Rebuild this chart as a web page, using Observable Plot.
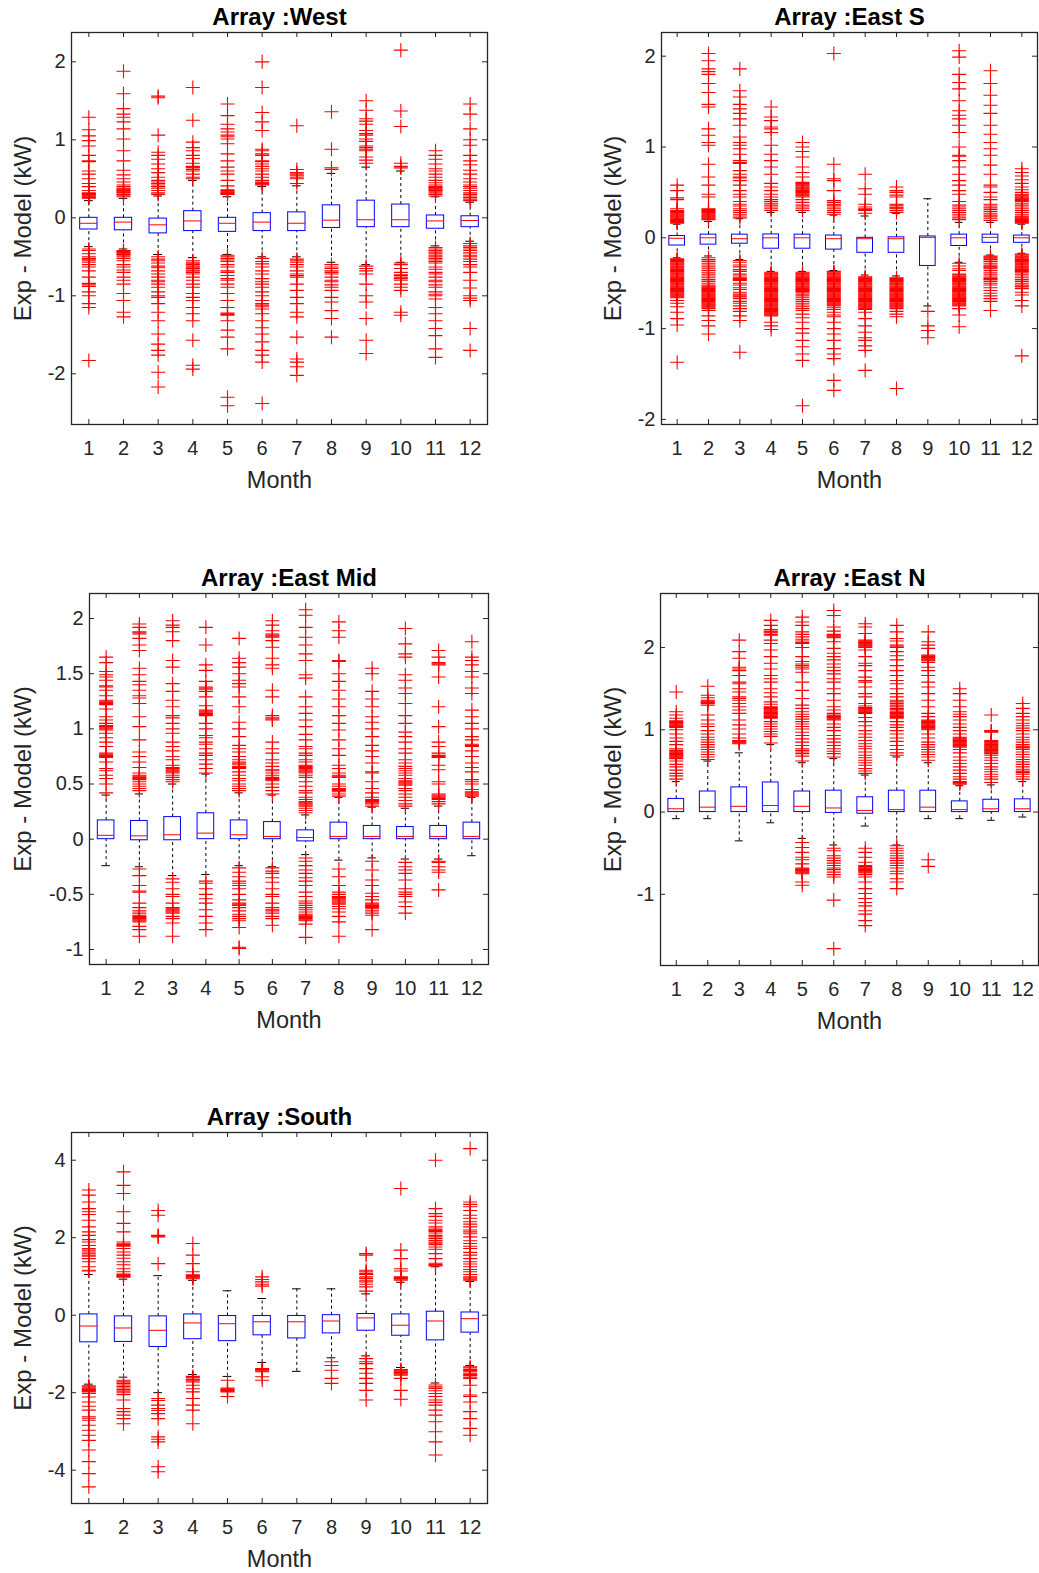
<!DOCTYPE html>
<html>
<head>
<meta charset="utf-8">
<script src="https://cdn.jsdelivr.net/npm/d3@7"></script>
<script src="https://cdn.jsdelivr.net/npm/@observablehq/plot@0.6"></script>
<style>
  html, body { margin: 0; padding: 0; background: #fff; overflow: hidden; }
  #page { position: relative; width: 1039px; height: 1573px; background: #fff; }
  .panel { position: absolute; }
</style>
</head>
<body>
<div id="page"></div>
<script>
// ---------------- DATA ----------------
const months = [1, 2, 3, 4, 5, 6, 7, 8, 9, 10, 11, 12];
const xLabel = "Month";
const yLabel = "Exp - Model (kW)";

// Box statistics per month: [lower whisker, Q1, median, Q3, upper whisker]
const westStats = [
  [-0.37, -0.15, -0.07, 0.0, 0.22], [-0.4, -0.16, -0.055, 0.0, 0.25], [-0.47, -0.2, -0.09, -0.01, 0.28],
  [-0.51, -0.17, -0.04, 0.085, 0.48], [-0.47, -0.18, -0.07, 0.0, 0.27], [-0.5, -0.17, -0.055, 0.06, 0.4],
  [-0.5, -0.17, -0.07, 0.07, 0.41], [-0.57, -0.13, -0.03, 0.16, 0.57], [-0.6, -0.12, -0.025, 0.22, 0.65],
  [-0.57, -0.12, -0.025, 0.17, 0.6], [-0.36, -0.14, -0.04, 0.03, 0.27], [-0.3, -0.12, -0.035, 0.02, 0.2]
];
const westOut = [
  [0.25,0.26,0.27,0.28,0.29,0.3,0.31,0.32,0.35,0.4,0.44,0.5,0.56,0.6,0.72,0.73,0.8,0.92,0.99,1.05,1.13,1.29,
   -0.4,-0.42,-0.46,-0.5,-0.52,-0.53,-0.55,-0.57,-0.6,-0.63,-0.68,-0.76,-0.84,-0.86,-0.88,-0.95,-1.0,-1.1,-1.15,-1.83],
  [0.27,0.29,0.3,0.32,0.33,0.34,0.35,0.36,0.37,0.38,0.4,0.42,0.46,0.5,0.55,0.61,0.73,0.86,1.01,1.14,1.23,1.29,1.33,1.4,1.59,1.88,
   -0.42,-0.43,-0.44,-0.45,-0.46,-0.47,-0.48,-0.5,-0.52,-0.55,-0.6,-0.63,-0.67,-0.7,-0.76,-0.8,-0.85,-0.97,-1.06,-1.21,-1.27],
  [0.3,0.32,0.35,0.38,0.4,0.42,0.44,0.46,0.48,0.52,0.58,0.63,0.69,0.75,0.8,0.84,1.06,1.54,1.56,
   -0.5,-0.53,-0.55,-0.58,-0.62,-0.64,-0.68,-0.72,-0.76,-0.8,-0.82,-0.85,-0.89,-0.95,-1.0,-1.02,-1.1,-1.21,-1.32,-1.49,-1.62,-1.7,-1.76,-1.98,-2.17],
  [0.5,0.52,0.56,0.6,0.62,0.64,0.65,0.66,0.7,0.76,0.8,0.86,0.9,0.97,1.25,1.67,
   -0.55,-0.57,-0.59,-0.6,-0.62,-0.64,-0.65,-0.67,-0.68,-0.7,-0.72,-0.76,-0.8,-0.85,-0.89,-0.97,-1.02,-1.06,-1.15,-1.23,-1.32,-1.57,-1.89,-1.94],
  [0.3,0.31,0.32,0.33,0.34,0.35,0.36,0.41,0.48,0.56,0.6,0.65,0.73,0.82,0.95,1.01,1.04,1.06,1.1,1.14,1.2,1.31,1.46,
   -0.48,-0.5,-0.52,-0.54,-0.56,-0.6,-0.63,-0.68,-0.7,-0.74,-0.78,-0.8,-0.85,-0.89,-0.97,-1.06,-1.15,-1.22,-1.23,-1.24,-1.25,-1.32,-1.44,-1.53,-1.68,-2.3,-2.41],
  [0.42,0.43,0.44,0.45,0.46,0.48,0.52,0.56,0.6,0.63,0.66,0.69,0.72,0.73,0.8,0.82,0.86,0.88,1.12,1.23,1.35,1.67,2.0,
   -0.52,-0.56,-0.59,-0.63,-0.68,-0.72,-0.78,-0.82,-0.85,-0.89,-0.95,-1.0,-1.06,-1.1,-1.12,-1.14,-1.17,-1.23,-1.32,-1.41,-1.49,-1.59,-1.7,-1.76,-1.85,-2.38],
  [0.44,0.5,0.52,0.54,0.56,0.58,0.62,1.18,
   -0.53,-0.55,-0.57,-0.6,-0.63,-0.68,-0.72,-0.74,-0.76,-0.85,-0.93,-1.02,-1.1,-1.21,-1.27,-1.53,-1.81,-1.85,-1.91,-2.02],
  [0.62,0.64,0.88,1.36,
   -0.6,-0.63,-0.65,-0.68,-0.7,-0.72,-0.76,-0.8,-0.82,-0.86,-0.89,-0.93,-1.02,-1.08,-1.19,-1.29,-1.53],
  [0.7,0.74,0.78,0.86,0.88,0.9,0.92,0.98,1.01,1.06,1.08,1.12,1.2,1.24,1.27,1.38,1.5,
   -0.62,-0.65,-0.68,-0.72,-0.85,-1.0,-1.08,-1.29,-1.57,-1.74],
  [0.64,0.66,0.7,1.17,1.37,2.15,
   -0.58,-0.6,-0.65,-0.7,-0.73,-0.74,-0.76,-0.78,-0.8,-0.85,-0.89,-0.93,-1.21,-1.25],
  [0.28,0.3,0.32,0.34,0.35,0.36,0.37,0.38,0.39,0.4,0.42,0.45,0.48,0.52,0.56,0.6,0.63,0.69,0.75,0.8,0.86,
   -0.38,-0.4,-0.42,-0.44,-0.46,-0.48,-0.5,-0.52,-0.54,-0.56,-0.58,-0.63,-0.66,-0.7,-0.72,-0.76,-0.8,-0.82,-0.86,-0.89,-0.95,-0.98,-1.0,-1.04,-1.15,-1.23,-1.32,-1.42,-1.51,-1.68,-1.79],
  [0.22,0.24,0.26,0.28,0.3,0.32,0.35,0.38,0.4,0.42,0.46,0.5,0.56,0.61,0.68,0.73,0.8,0.93,1.0,1.14,1.33,1.46,
   -0.33,-0.36,-0.38,-0.4,-0.42,-0.45,-0.48,-0.5,-0.53,-0.56,-0.6,-0.63,-0.7,-0.8,-0.9,-1.0,-1.03,-1.06,-1.42,-1.7]
];

const eastSStats = [
  [-0.22, -0.085, -0.005, 0.02, 0.15], [-0.2, -0.075, 0.0, 0.035, 0.18], [-0.24, -0.065, -0.01, 0.035, 0.21],
  [-0.37, -0.12, 0.0, 0.037, 0.28], [-0.37, -0.12, 0.0, 0.035, 0.28], [-0.36, -0.13, -0.01, 0.025, 0.25],
  [-0.41, -0.165, -0.01, 0.0, 0.24], [-0.42, -0.165, -0.01, 0.005, 0.27], [-0.75, -0.31, 0.005, 0.015, 0.43],
  [-0.27, -0.09, 0.0, 0.035, 0.17], [-0.19, -0.055, 0.005, 0.035, 0.17], [-0.17, -0.055, 0.0, 0.025, 0.15]
];
const eastSOut = [
  [0.16,0.17,0.18,0.19,0.2,0.21,0.22,0.23,0.24,0.25,0.26,0.27,0.28,0.29,0.3,0.32,0.42,0.44,0.52,0.58,
   -0.23,-0.24,-0.25,-0.26,-0.27,-0.28,-0.29,-0.3,-0.31,-0.32,-0.33,-0.34,-0.35,-0.36,-0.37,-0.38,-0.39,-0.4,-0.41,-0.42,-0.43,-0.44,-0.45,
   -0.46,-0.47,-0.48,-0.49,-0.5,-0.51,-0.52,-0.53,-0.54,-0.55,-0.56,-0.57,-0.58,-0.59,-0.6,-0.61,-0.62,-0.63,-0.64,-0.65,-0.66,
   -0.69,-0.72,-0.76,-0.82,-0.89,-0.96,-1.37],
  [0.2,0.21,0.22,0.23,0.24,0.25,0.26,0.27,0.28,0.29,0.3,0.31,0.32,0.45,0.48,0.58,0.67,0.81,1.02,1.05,1.13,1.2,1.44,1.47,1.6,1.7,1.8,1.83,1.86,1.95,2.03,
   -0.22,-0.24,-0.26,-0.28,-0.3,-0.32,-0.34,-0.36,-0.38,-0.4,-0.42,-0.44,-0.46,-0.48,-0.5,-0.52,-0.53,-0.54,-0.55,-0.56,-0.57,-0.58,-0.59,-0.6,
   -0.61,-0.62,-0.63,-0.64,-0.65,-0.66,-0.67,-0.68,-0.69,-0.7,-0.71,-0.72,-0.73,-0.74,-0.75,-0.76,-0.77,-0.78,-0.8,-0.86,-0.91,-0.97,-1.06],
  [0.22,0.24,0.26,0.28,0.3,0.32,0.35,0.37,0.4,0.45,0.48,0.52,0.58,0.63,0.66,0.67,0.7,0.74,0.82,0.83,0.85,0.92,0.98,1.02,1.05,1.11,1.24,1.31,1.37,1.42,1.47,1.55,1.62,1.86,
   -0.25,-0.27,-0.3,-0.32,-0.35,-0.37,-0.4,-0.42,-0.44,-0.45,-0.46,-0.47,-0.5,-0.52,-0.55,-0.57,-0.6,-0.62,-0.64,-0.65,-0.67,-0.7,-0.72,-0.75,-0.78,-0.81,-0.86,-0.91,-1.26],
  [0.3,0.32,0.34,0.36,0.38,0.4,0.42,0.45,0.48,0.52,0.56,0.6,0.7,0.78,0.85,0.92,1.02,1.16,1.2,1.22,1.29,1.33,1.44,
   -0.38,-0.39,-0.4,-0.41,-0.42,-0.43,-0.44,-0.45,-0.46,-0.47,-0.48,-0.49,-0.5,-0.51,-0.52,-0.53,-0.54,-0.55,-0.56,-0.57,-0.58,-0.59,-0.6,
   -0.61,-0.62,-0.63,-0.64,-0.65,-0.66,-0.67,-0.68,-0.69,-0.7,-0.71,-0.72,-0.73,-0.74,-0.75,-0.76,-0.77,-0.78,-0.79,-0.8,-0.81,-0.82,-0.83,-0.84,-0.85,-0.86,
   -0.93,-0.97,-1.01],
  [0.3,0.32,0.34,0.36,0.39,0.42,0.45,0.46,0.47,0.48,0.49,0.5,0.51,0.52,0.53,0.54,0.55,0.56,0.57,0.58,0.59,0.6,0.61,0.67,0.72,0.78,0.89,0.95,1.0,1.05,
   -0.38,-0.39,-0.4,-0.41,-0.42,-0.43,-0.44,-0.45,-0.46,-0.47,-0.48,-0.49,-0.5,-0.51,-0.52,-0.53,-0.54,-0.55,-0.56,-0.57,-0.58,-0.59,-0.6,
   -0.62,-0.64,-0.66,-0.68,-0.7,-0.72,-0.74,-0.76,-0.78,-0.8,-0.84,-0.88,-0.93,-1.0,-1.05,-1.13,-1.2,-1.28,-1.35,-1.85],
  [0.26,0.28,0.3,0.32,0.34,0.36,0.37,0.39,0.41,0.52,0.63,0.65,0.81,2.03,
   -0.37,-0.38,-0.39,-0.4,-0.41,-0.42,-0.43,-0.44,-0.45,-0.46,-0.47,-0.48,-0.49,-0.5,-0.51,-0.52,-0.53,-0.54,-0.55,-0.56,-0.57,-0.58,-0.59,-0.6,
   -0.61,-0.62,-0.63,-0.64,-0.65,-0.66,-0.67,-0.68,-0.69,-0.7,-0.71,-0.72,-0.73,-0.74,-0.75,
   -0.77,-0.79,-0.82,-0.85,-0.87,-0.93,-1.0,-1.06,-1.13,-1.22,-1.28,-1.33,-1.57,-1.68],
  [0.27,0.3,0.31,0.32,0.34,0.37,0.48,0.54,0.7,
   -0.43,-0.44,-0.45,-0.46,-0.47,-0.48,-0.49,-0.5,-0.51,-0.52,-0.53,-0.54,-0.55,-0.56,-0.57,-0.58,-0.59,-0.6,
   -0.61,-0.62,-0.63,-0.64,-0.65,-0.66,-0.67,-0.68,-0.69,-0.7,-0.71,-0.72,-0.73,-0.74,-0.75,-0.76,-0.77,-0.78,-0.79,
   -0.82,-0.89,-0.97,-1.04,-1.1,-1.13,-1.19,-1.24,-1.46],
  [0.28,0.3,0.32,0.33,0.34,0.36,0.37,0.45,0.47,0.5,0.52,0.56,
   -0.44,-0.45,-0.46,-0.47,-0.48,-0.49,-0.5,-0.51,-0.52,-0.53,-0.54,-0.55,-0.56,-0.57,-0.58,-0.59,-0.6,
   -0.61,-0.62,-0.63,-0.64,-0.65,-0.66,-0.67,-0.68,-0.69,-0.7,-0.71,-0.72,-0.73,-0.74,-0.75,-0.76,-0.77,-0.78,
   -0.81,-0.84,-0.87,-1.66],
  [-0.81,-0.97,-1.02,-1.1],
  [0.2,0.22,0.24,0.26,0.28,0.3,0.32,0.34,0.36,0.4,0.48,0.52,0.58,0.63,0.7,0.78,0.85,0.9,0.91,1.0,1.16,1.24,1.31,1.35,1.4,1.51,1.64,1.71,1.8,1.99,2.06,
   -0.28,-0.31,-0.34,-0.36,-0.4,-0.41,-0.42,-0.43,-0.44,-0.45,-0.46,-0.47,-0.48,-0.49,-0.5,-0.51,-0.52,-0.53,-0.54,-0.55,-0.56,-0.57,-0.58,-0.59,
   -0.6,-0.61,-0.62,-0.63,-0.64,-0.65,-0.66,-0.67,-0.68,-0.69,-0.7,-0.71,-0.72,-0.73,-0.74,-0.75,-0.78,-0.85,-0.98],
  [0.19,0.21,0.23,0.25,0.27,0.29,0.31,0.33,0.35,0.37,0.42,0.45,0.5,0.56,0.58,0.7,0.8,0.91,0.98,1.05,1.14,1.24,1.37,1.46,1.57,1.7,1.84,
   -0.2,-0.21,-0.22,-0.23,-0.24,-0.26,-0.28,-0.3,-0.31,-0.32,-0.33,-0.34,-0.36,-0.38,-0.4,-0.42,-0.44,-0.45,-0.46,-0.48,-0.5,-0.52,-0.55,-0.58,-0.61,-0.64,-0.67,-0.7,-0.8],
  [0.16,0.17,0.18,0.19,0.2,0.21,0.22,0.23,0.24,0.26,0.28,0.3,0.32,0.34,0.36,0.38,0.4,0.41,0.42,0.43,0.44,0.45,0.46,0.47,0.48,0.5,0.53,0.56,0.6,0.64,0.68,0.72,0.76,
   -0.18,-0.19,-0.2,-0.21,-0.22,-0.23,-0.24,-0.25,-0.26,-0.27,-0.28,-0.29,-0.3,-0.31,-0.32,-0.33,-0.34,-0.35,-0.36,-0.37,-0.38,-0.4,-0.42,-0.44,-0.46,-0.48,-0.5,-0.52,-0.53,-0.54,-0.56,-0.6,-0.63,-0.69,-0.75,-1.3]
];

const eastMidStats = [
  [-0.24, 0.0, 0.035, 0.17, 0.4], [-0.25, -0.01, 0.03, 0.165, 0.41], [-0.33, -0.01, 0.04, 0.2, 0.5],
  [-0.32, 0.0, 0.055, 0.235, 0.59], [-0.24, 0.0, 0.04, 0.17, 0.42], [-0.25, 0.0, 0.025, 0.155, 0.4],
  [-0.14, -0.02, 0.015, 0.08, 0.22], [-0.19, 0.0, 0.025, 0.15, 0.38], [-0.17, 0.0, 0.025, 0.12, 0.29],
  [-0.18, 0.0, 0.025, 0.11, 0.28], [-0.18, 0.0, 0.025, 0.12, 0.3], [-0.15, 0.0, 0.025, 0.15, 0.38]
];
const eastMidOut = [
  [0.42,0.5,0.55,0.58,0.62,0.64,0.7,0.74,0.75,0.76,0.77,0.78,0.84,0.88,0.92,0.96,0.99,1.0,1.01,1.02,1.03,1.05,1.08,1.11,1.18,1.22,1.23,1.24,1.25,1.26,1.3,1.35,1.38,1.39,1.44,1.47,1.49,1.52,1.6,1.65],
  [0.44,0.46,0.48,0.5,0.52,0.54,0.55,0.56,0.57,0.58,0.6,0.65,0.7,0.75,0.79,0.9,1.02,1.11,1.23,1.28,1.3,1.35,1.4,1.43,1.49,1.55,1.71,1.76,1.82,1.86,1.87,1.88,1.92,1.95,
   -0.27,-0.33,-0.42,-0.47,-0.48,-0.58,-0.62,-0.65,-0.67,-0.69,-0.7,-0.71,-0.72,-0.73,-0.74,-0.75,-0.79,-0.82,-0.88],
  [0.52,0.54,0.56,0.58,0.6,0.61,0.62,0.63,0.64,0.65,0.67,0.72,0.75,0.8,0.84,0.88,0.96,1.0,1.05,1.1,1.12,1.2,1.26,1.34,1.41,1.56,1.62,1.8,1.88,1.92,1.94,1.98,
   -0.36,-0.39,-0.45,-0.5,-0.52,-0.58,-0.62,-0.63,-0.64,-0.65,-0.66,-0.67,-0.7,-0.72,-0.76,-0.88],
  [0.6,0.64,0.68,0.72,0.76,0.78,0.82,0.86,0.88,0.92,0.94,1.0,1.05,1.12,1.13,1.14,1.15,1.16,1.17,1.21,1.29,1.34,1.36,1.37,1.38,1.43,1.53,1.58,1.76,1.92,
   -0.38,-0.4,-0.45,-0.5,-0.54,-0.58,-0.64,-0.7,-0.76,-0.82],
  [0.44,0.46,0.48,0.5,0.53,0.55,0.58,0.61,0.64,0.65,0.66,0.68,0.69,0.7,0.72,0.75,0.79,0.82,0.85,0.93,1.0,1.06,1.2,1.29,1.38,1.41,1.44,1.5,1.56,1.6,1.64,1.82,
   -0.26,-0.3,-0.34,-0.38,-0.4,-0.42,-0.45,-0.5,-0.55,-0.58,-0.59,-0.6,-0.62,-0.65,-0.68,-0.7,-0.72,-0.74,-0.8,-0.98,-0.99],
  [0.41,0.44,0.47,0.5,0.53,0.54,0.55,0.56,0.58,0.6,0.62,0.63,0.66,0.69,0.72,0.78,0.82,0.88,1.08,1.09,1.1,1.12,1.29,1.35,1.55,1.58,1.64,1.74,1.8,1.83,1.84,1.85,1.86,1.89,1.94,1.98,
   -0.26,-0.29,-0.31,-0.35,-0.39,-0.45,-0.5,-0.52,-0.58,-0.62,-0.64,-0.65,-0.67,-0.7,-0.72,-0.78],
  [0.24,0.26,0.28,0.3,0.31,0.32,0.33,0.34,0.36,0.38,0.42,0.44,0.48,0.52,0.56,0.58,0.6,0.61,0.62,0.63,0.64,0.65,0.66,0.67,0.7,0.72,0.76,0.78,0.82,0.84,0.9,0.95,1.02,1.08,1.14,1.2,1.29,1.46,1.49,1.62,1.68,1.76,1.83,1.92,2.03,2.08,
   -0.17,-0.2,-0.24,-0.28,-0.31,-0.35,-0.38,-0.42,-0.48,-0.52,-0.56,-0.58,-0.6,-0.62,-0.64,-0.66,-0.68,-0.69,-0.7,-0.71,-0.72,-0.73,-0.74,-0.77,-0.89],
  [0.39,0.41,0.43,0.44,0.45,0.46,0.48,0.5,0.56,0.57,0.58,0.6,0.64,0.67,0.76,0.82,0.9,0.99,1.05,1.12,1.2,1.27,1.35,1.43,1.5,1.61,1.62,1.83,1.89,1.97,
   -0.27,-0.34,-0.42,-0.48,-0.5,-0.52,-0.53,-0.54,-0.55,-0.56,-0.57,-0.58,-0.59,-0.61,-0.63,-0.66,-0.7,-0.75,-0.88],
  [0.3,0.32,0.33,0.34,0.35,0.36,0.38,0.42,0.46,0.52,0.6,0.61,0.69,0.75,0.8,0.85,0.93,1.0,1.06,1.11,1.2,1.27,1.34,1.5,1.55,
   -0.2,-0.28,-0.37,-0.42,-0.49,-0.52,-0.55,-0.58,-0.59,-0.6,-0.61,-0.62,-0.63,-0.65,-0.67,-0.69,-0.82],
  [0.3,0.32,0.35,0.38,0.41,0.44,0.46,0.49,0.5,0.51,0.52,0.53,0.55,0.58,0.6,0.62,0.64,0.66,0.69,0.72,0.78,0.82,0.88,0.93,0.97,1.05,1.12,1.23,1.32,1.37,1.44,1.49,1.65,1.68,1.77,1.91,
   -0.21,-0.25,-0.28,-0.31,-0.37,-0.45,-0.48,-0.5,-0.52,-0.57,-0.61,-0.67],
  [0.32,0.34,0.36,0.37,0.38,0.39,0.4,0.41,0.5,0.52,0.63,0.67,0.74,0.75,0.76,0.78,0.84,0.88,1.02,1.2,1.47,1.58,1.59,1.6,1.65,1.71,
   -0.2,-0.21,-0.25,-0.28,-0.3,-0.46],
  [0.39,0.4,0.41,0.42,0.43,0.45,0.5,0.52,0.54,0.61,0.65,0.69,0.75,0.8,0.84,0.85,0.86,0.9,0.93,1.0,1.05,1.11,1.17,1.32,1.37,1.47,1.52,1.58,1.62,1.65,1.79]
];

const eastNStats = [
  [-0.08, 0.0, 0.04, 0.16, 0.37], [-0.08, 0.0, 0.06, 0.25, 0.62], [-0.35, 0.0, 0.07, 0.3, 0.72],
  [-0.13, 0.0, 0.08, 0.36, 0.82], [-0.32, 0.0, 0.07, 0.25, 0.6], [-0.4, -0.01, 0.05, 0.26, 0.65],
  [-0.17, -0.02, 0.02, 0.18, 0.45], [-0.4, 0.0, 0.03, 0.26, 0.67], [-0.08, 0.0, 0.06, 0.26, 0.6],
  [-0.08, 0.0, 0.03, 0.13, 0.32], [-0.1, 0.0, 0.04, 0.15, 0.33], [-0.06, 0.0, 0.04, 0.155, 0.37]
];
const eastNOut = [
  [0.4,0.44,0.47,0.51,0.55,0.58,0.62,0.65,0.66,0.67,0.68,0.69,0.7,0.71,0.72,0.73,0.74,0.75,0.77,0.82,0.86,0.9,0.95,1.0,1.03,1.04,1.05,1.06,1.07,1.08,1.09,1.1,1.11,1.14,1.18,1.22,1.46],
  [0.64,0.67,0.7,0.73,0.76,0.79,0.82,0.85,0.88,0.91,0.95,0.99,1.04,1.07,1.12,1.18,1.3,1.32,1.33,1.34,1.35,1.36,1.39,1.42,1.53],
  [0.83,0.84,0.85,0.86,0.87,0.9,0.95,1.01,1.06,1.12,1.2,1.24,1.28,1.32,1.36,1.38,1.4,1.46,1.5,1.56,1.58,1.66,1.72,1.74,1.76,1.87,1.95,2.09],
  [0.84,0.92,0.95,0.98,1.01,1.04,1.07,1.1,1.14,1.15,1.16,1.17,1.18,1.19,1.2,1.21,1.22,1.23,1.24,1.25,1.26,1.27,1.28,1.31,1.34,1.4,1.45,1.5,1.58,1.62,1.66,1.74,1.81,1.89,1.97,2.05,2.09,2.15,2.16,2.18,2.19,2.2,2.22,2.27,2.33],
  [0.62,0.68,0.71,0.73,0.75,0.77,0.81,0.85,0.89,0.93,0.97,1.01,1.04,1.07,1.1,1.13,1.16,1.19,1.22,1.26,1.3,1.38,1.48,1.58,1.7,1.74,1.76,1.78,1.8,1.83,1.89,2.0,2.05,2.06,2.08,2.1,2.13,2.16,2.19,2.27,2.31,2.37,
   -0.37,-0.43,-0.49,-0.55,-0.58,-0.63,-0.68,-0.69,-0.7,-0.71,-0.72,-0.73,-0.74,-0.75,-0.85,-0.89],
  [0.67,0.71,0.74,0.77,0.81,0.85,0.89,0.93,0.99,1.03,1.07,1.12,1.13,1.14,1.15,1.16,1.17,1.18,1.2,1.24,1.28,1.36,1.44,1.5,1.58,1.62,1.68,1.72,1.76,1.8,1.85,1.89,1.93,1.99,2.07,2.12,2.13,2.14,2.15,2.16,2.2,2.25,2.39,2.45,
   -0.44,-0.47,-0.53,-0.56,-0.59,-0.62,-0.65,-0.68,-0.7,-0.73,-0.76,-0.79,-1.07,-1.66],
  [0.47,0.5,0.53,0.57,0.6,0.63,0.66,0.69,0.73,0.77,0.8,0.83,0.87,0.91,0.95,0.99,1.05,1.1,1.15,1.2,1.21,1.22,1.23,1.24,1.25,1.26,1.27,1.29,1.32,1.4,1.44,1.52,1.58,1.6,1.64,1.72,1.78,1.81,1.89,1.97,2.0,2.01,2.02,2.03,2.04,2.05,2.06,2.07,2.08,2.09,2.17,2.25,2.29,
   -0.44,-0.49,-0.55,-0.61,-0.65,-0.66,-0.67,-0.68,-0.69,-0.7,-0.71,-0.72,-0.73,-0.74,-0.76,-0.79,-0.85,-0.93,-0.99,-1.05,-1.1,-1.14,-1.2,-1.24,-1.32,-1.38],
  [0.69,0.72,0.76,0.81,0.86,0.9,0.95,0.99,1.03,1.06,1.1,1.14,1.15,1.16,1.17,1.18,1.19,1.2,1.21,1.22,1.24,1.25,1.26,1.28,1.3,1.32,1.34,1.36,1.4,1.44,1.5,1.56,1.6,1.66,1.72,1.78,1.85,1.9,1.95,2.0,2.01,2.03,2.08,2.11,2.19,2.27,
   -0.41,-0.44,-0.47,-0.5,-0.53,-0.56,-0.59,-0.62,-0.65,-0.68,-0.72,-0.75,-0.81,-0.85,-0.93],
  [0.63,0.67,0.7,0.73,0.76,0.79,0.82,0.85,0.9,0.95,1.0,1.01,1.02,1.03,1.04,1.05,1.06,1.07,1.08,1.09,1.1,1.11,1.12,1.16,1.2,1.28,1.36,1.44,1.52,1.58,1.66,1.72,1.76,1.82,1.84,1.85,1.86,1.87,1.88,1.89,1.9,1.91,1.99,2.03,2.07,2.19,
   -0.58,-0.66],
  [0.34,0.35,0.36,0.37,0.4,0.43,0.47,0.51,0.55,0.59,0.63,0.67,0.72,0.76,0.79,0.8,0.81,0.82,0.83,0.84,0.85,0.86,0.87,0.88,0.89,0.9,0.91,0.95,0.99,1.03,1.07,1.12,1.16,1.19,1.22,1.28,1.36,1.44,1.5],
  [0.36,0.4,0.43,0.46,0.49,0.52,0.55,0.59,0.63,0.66,0.69,0.71,0.72,0.73,0.74,0.75,0.76,0.77,0.78,0.79,0.8,0.81,0.82,0.83,0.84,0.85,0.86,0.87,0.97,0.98,0.99,1.18],
  [0.4,0.43,0.46,0.48,0.49,0.5,0.52,0.55,0.58,0.61,0.64,0.67,0.7,0.73,0.76,0.78,0.79,0.8,0.82,0.85,0.88,0.91,0.95,0.99,1.02,1.05,1.08,1.12,1.16,1.2,1.26,1.32]
];

const southStats = [
  [-1.78, -0.7, -0.28, 0.02, 1.05], [-1.6, -0.69, -0.33, -0.03, 0.93], [-2.0, -0.82, -0.39, -0.03, 1.02],
  [-1.53, -0.62, -0.2, 0.02, 0.9], [-1.58, -0.67, -0.22, -0.02, 0.63], [-1.22, -0.52, -0.17, -0.02, 0.43],
  [-1.45, -0.6, -0.17, -0.02, 0.68], [-1.1, -0.47, -0.15, 0.0, 0.68], [-1.05, -0.4, -0.07, 0.03, 0.55],
  [-1.35, -0.53, -0.26, 0.02, 0.85], [-1.75, -0.65, -0.15, 0.09, 1.25], [-1.3, -0.45, -0.09, 0.07, 0.87]
];
const southOut = [
  [1.14,1.16,1.25,1.38,1.46,1.52,1.55,1.6,1.63,1.68,1.72,1.8,1.89,1.95,2.06,2.15,2.28,2.45,2.6,2.67,2.75,2.92,3.1,3.23,
   -1.82,-1.85,-1.88,-1.9,-1.92,-1.94,-1.96,-1.98,-2.02,-2.11,-2.24,-2.35,-2.45,-2.62,-2.66,-2.71,-2.84,-2.97,-3.1,-3.23,-3.48,-3.78,-4.09,-4.43],
  [0.98,1.0,1.02,1.04,1.06,1.12,1.2,1.3,1.38,1.47,1.55,1.63,1.72,1.78,1.8,1.82,1.84,1.89,2.15,2.37,2.67,3.14,3.35,3.7,
   -1.68,-1.72,-1.76,-1.8,-1.84,-1.88,-1.92,-1.96,-2.0,-2.05,-2.19,-2.41,-2.49,-2.58,-2.67,-2.8],
  [1.33,2.02,2.04,2.06,2.58,2.7,
   -2.15,-2.2,-2.32,-2.41,-2.46,-2.54,-2.67,-3.14,-3.2,-3.27,-3.91,-4.04],
  [0.94,0.96,0.98,1.0,1.02,1.04,1.12,1.33,1.55,1.85,
   -1.58,-1.6,-1.62,-1.66,-1.68,-1.72,-1.81,-1.9,-1.98,-2.15,-2.32,-2.45,-2.8],
  [-1.68,-1.88,-1.9,-1.92,-1.94,-1.96,-1.98,-2.1],
  [0.75,0.8,0.86,0.92,0.99,
   -1.38,-1.4,-1.42,-1.44,-1.46,-1.59,-1.68],
  [],
  [-1.2,-1.3,-1.42,-1.63,-1.76],
  [0.62,0.73,0.8,0.86,0.9,0.95,0.99,1.05,1.08,1.12,1.16,1.55,1.59,
   -1.12,-1.2,-1.25,-1.38,-1.5,-1.63,-1.76,-1.94,-2.19],
  [0.9,0.93,0.95,0.97,0.99,1.14,1.2,1.46,1.68,3.27,
   -1.4,-1.42,-1.44,-1.46,-1.48,-1.5,-1.52,-1.55,-1.63,-1.94,-2.17],
  [1.27,1.29,1.31,1.34,1.46,1.59,1.7,1.76,1.82,1.86,1.89,1.93,1.98,2.02,2.06,2.12,2.16,2.19,2.22,2.28,2.38,2.45,2.55,2.62,2.75,4.0,
   -1.8,-1.85,-1.89,-1.95,-2.02,-2.1,-2.19,-2.25,-2.32,-2.45,-2.58,-2.75,-3.01,-3.27,-3.61],
  [0.9,0.93,0.96,0.99,1.05,1.12,1.18,1.25,1.32,1.38,1.46,1.55,1.62,1.72,1.78,1.85,1.92,2.02,2.1,2.15,2.2,2.28,2.35,2.41,2.5,2.58,2.7,2.8,2.86,2.92,4.3,
   -1.33,-1.36,-1.4,-1.43,-1.46,-1.5,-1.53,-1.56,-1.6,-1.63,-1.81,-2.06,-2.1,-2.24,-2.49,-2.67,-2.92,-3.1]
];

const westTicks = [-2, -1, 0, 1, 2];
const eastSTicks = [-2, -1, 0, 1, 2];
const eastMidTicks = [-1, -0.5, 0, 0.5, 1, 1.5, 2];
const eastNTicks = [-1, 0, 1, 2];
const southTicks = [-4, -2, 0, 2, 4];

// ---------------- LAYOUT ----------------
const panels = [
  {title: "Array :West",     stats: westStats,    out: westOut,    ticks: westTicks,    yDomain: [-2.65, 2.376], L: 71, R: 487,  T: 32,   B: 424,  ylabDx: -48.5},
  {title: "Array :East S",   stats: eastSStats,   out: eastSOut,   ticks: eastSTicks,   yDomain: [-2.056, 2.261], L: 661, R: 1037, T: 32,  B: 424,  ylabDx: -48.5},
  {title: "Array :East Mid", stats: eastMidStats, out: eastMidOut, ticks: eastMidTicks, yDomain: [-1.136, 2.227], L: 89, R: 488,  T: 593,  B: 964,  ylabDx: -66.5},
  {title: "Array :East N",   stats: eastNStats,   out: eastNOut,   ticks: eastNTicks,   yDomain: [-1.865, 2.657], L: 660, R: 1038, T: 593, B: 965,  ylabDx: -47.5},
  {title: "Array :South",    stats: southStats,   out: southOut,   ticks: southTicks,   yDomain: [-4.86, 4.715], L: 71, R: 487,  T: 1132, B: 1503, ylabDx: -48.5}
];

const INK = "#262626";
const FONT = "'Liberation Sans', Arial, Helvetica, sans-serif";
const BOXW = 0.25;   // half box width in month units
const CAPW = 0.125;  // half whisker cap width
const tick = 5;

const plusSymbol = {
  draw(ctx, size) {
    const r = Math.sqrt(size / Math.PI);
    ctx.moveTo(-r, 0); ctx.lineTo(r, 0);
    ctx.moveTo(0, -r); ctx.lineTo(0, r);
  }
};

const page = document.getElementById("page");
const mL = 80, mR = 2, mT = 40, mB = 80;

for (const p of panels) {
  const w = p.R - p.L, h = p.B - p.T;
  const rows = months.map((m, i) => ({m, lo: p.stats[i][0], q1: p.stats[i][1], med: p.stats[i][2], q3: p.stats[i][3], hi: p.stats[i][4]}));
  const outs = months.flatMap((m, i) => p.out[i].map(v => ({m, v})));

  const chart = Plot.plot({
    width: w + mL + mR,
    height: h + mT + mB,
    marginLeft: mL, marginRight: mR, marginTop: mT, marginBottom: mB,
    style: {fontFamily: FONT, color: INK, background: "transparent", overflow: "visible"},
    x: {domain: [0.5, 12.5]},
    y: {domain: p.yDomain},
    marks: [
      // whiskers (dashed)
      Plot.ruleX(rows, {x: "m", y1: "q3", y2: "hi", stroke: "#000", strokeWidth: 1, strokeDasharray: "3,3"}),
      Plot.ruleX(rows, {x: "m", y1: "lo", y2: "q1", stroke: "#000", strokeWidth: 1, strokeDasharray: "3,3"}),
      // whisker caps
      Plot.ruleY(rows, {y: "hi", x1: d => d.m - CAPW, x2: d => d.m + CAPW, stroke: "#000", strokeWidth: 1}),
      Plot.ruleY(rows, {y: "lo", x1: d => d.m - CAPW, x2: d => d.m + CAPW, stroke: "#000", strokeWidth: 1}),
      // boxes
      Plot.rect(rows, {x1: d => d.m - BOXW, x2: d => d.m + BOXW, y1: "q1", y2: "q3", fill: "none", stroke: "#0000ff", strokeWidth: 1}),
      // medians
      Plot.ruleY(rows, {y: "med", x1: d => d.m - BOXW, x2: d => d.m + BOXW, stroke: "#ff0000", strokeWidth: 1}),
      // outliers
      Plot.dot(outs, {x: "m", y: "v", symbol: plusSymbol, r: 7, stroke: "#ff0000", fill: "none", strokeWidth: 1.1}),
      // inward ticks on all four sides
      Plot.ruleX(months, {x: d => d, insetTop: h - tick, stroke: INK}),
      Plot.ruleX(months, {x: d => d, insetBottom: h - tick, stroke: INK}),
      Plot.ruleY(p.ticks, {y: d => d, insetRight: w - tick, stroke: INK}),
      Plot.ruleY(p.ticks, {y: d => d, insetLeft: w - tick, stroke: INK}),
      // axes (labels only)
      Plot.axisX(months, {tickSize: 0, tickPadding: 16, tickFormat: d => String(d), fontSize: 20, label: null}),
      Plot.axisY(p.ticks, {tickSize: 0, tickPadding: 6, tickFormat: d => String(d), fontSize: 20, label: null}),
      Plot.frame({stroke: INK, strokeWidth: 1.3}),
      // axis titles and panel title
      Plot.text([xLabel], {frameAnchor: "bottom", dy: 56, textAnchor: "middle", lineAnchor: "middle", fontSize: 23.5, fill: INK}),
      Plot.text([yLabel], {frameAnchor: "left", dx: p.ylabDx, rotate: -90, textAnchor: "middle", lineAnchor: "middle", fontSize: 24, fill: INK}),
      Plot.text([p.title], {frameAnchor: "top", dy: -15, textAnchor: "middle", lineAnchor: "middle", fontSize: 24, fontWeight: "bold", fill: "#000"})
    ]
  });
  chart.classList.add("panel");
  chart.style.left = (p.L - mL) + "px";
  chart.style.top = (p.T - mT) + "px";
  page.appendChild(chart);
}
</script>
</body>
</html>
